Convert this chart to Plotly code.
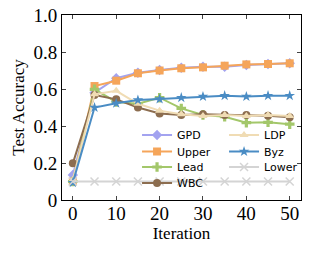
import plotly.graph_objects as go

iterations = [0, 5, 10, 15, 20, 25, 30, 35, 40, 45, 50]
gpd = [0.135, 0.58, 0.658, 0.688, 0.703, 0.715, 0.72, 0.72, 0.73, 0.735, 0.739]
upper = [0.10, 0.616, 0.645, 0.685, 0.70, 0.712, 0.717, 0.726, 0.733, 0.735, 0.739]
lead = [0.10, 0.598, 0.53, 0.52, 0.553, 0.495, 0.46, 0.45, 0.418, 0.42, 0.41]
wbc = [0.198, 0.568, 0.544, 0.50, 0.468, 0.46, 0.463, 0.46, 0.46, 0.456, 0.447]
ldp = [0.11, 0.571, 0.59, 0.52, 0.483, 0.463, 0.454, 0.46, 0.454, 0.46, 0.454]
byz = [0.094, 0.50, 0.523, 0.54, 0.546, 0.553, 0.559, 0.564, 0.559, 0.564, 0.564]
lower = [0.10, 0.10, 0.10, 0.10, 0.10, 0.10, 0.10, 0.10, 0.10, 0.10, 0.10]

y_tickvals = [0, 0.2, 0.4, 0.6, 0.8, 1.0]
y_ticktext = ["0", "0.2", "0.4", "0.6", "0.8", "1.0"]
x_tickvals = [0, 10, 20, 30, 40, 50]

# name, values, colour, symbol, legend row
series = [
    ("GPD", gpd, "#a3a3f0", "diamond", "legend"),
    ("Upper", upper, "#f5a55a", "square", "legend2"),
    ("Lead", lead, "#a3c76a", "cross", "legend3"),
    ("WBC", wbc, "#8c6d4f", "circle", "legend4"),
    ("LDP", ldp, "#f0dcb4", "triangle-up", "legend"),
    ("Byz", byz, "#4a8cc4", "star", "legend2"),
    ("Lower", lower, "#d4d4d4", "x-thin-open", "legend3"),
]

fig = go.Figure()
for name, vals, color, sym, lg in series:
    marker = dict(symbol=sym, size=8, color=color)
    if sym == "x-thin-open":
        marker = dict(symbol=sym, size=8, color=color, line=dict(width=1.5, color=color))
    fig.add_trace(go.Scatter(
        x=iterations, y=vals, mode="lines+markers", name=name,
        line=dict(color=color, width=2), marker=marker, legend=lg,
    ))

serif = "Liberation Serif, Times New Roman, serif"


def row_legend(ypix):
    return dict(
        font=dict(family="DejaVu Sans, sans-serif", size=11, color="black"),
        bgcolor="rgba(0,0,0,0)", yanchor="middle", xanchor="left",
        orientation="h", entrywidth=42, traceorder="normal",
        x=0.314, y=(200 - ypix) / 185,
    )


fig.update_layout(
    width=319, height=255,
    margin=dict(l=62, r=8, t=15, b=55),
    plot_bgcolor="white", paper_bgcolor="white",
    font=dict(family=serif, color="black"),
    legend=row_legend(135),
    legend2=row_legend(151.5),
    legend3=row_legend(167),
    legend4=row_legend(183),
    xaxis=dict(
        range=[-2.5, 52.6], tickvals=x_tickvals, ticks="inside", ticklen=4,
        showline=True, linecolor="black", linewidth=1, mirror="allticks",
        showgrid=False, zeroline=False, tickfont=dict(size=19, family=serif),
        automargin=False, ticklabelstandoff=-4,
        title=dict(text="Iteration", font=dict(size=17, family=serif), standoff=0),
    ),
    yaxis=dict(
        range=[0, 1.0], tickvals=y_tickvals, ticktext=y_ticktext, ticks="inside", ticklen=4,
        showline=True, linecolor="black", linewidth=1, mirror="allticks",
        showgrid=False, zeroline=False, tickfont=dict(size=19, family=serif),
        automargin=False,
        title=dict(text="Test Accuracy", font=dict(size=17, family=serif), standoff=4),
    ),
)
fig.write_html("out.html", config={"displayModeBar": False},
               post_script="document.body.style.margin='0';")
